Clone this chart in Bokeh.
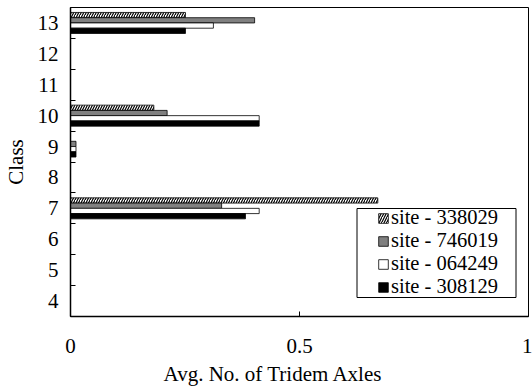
from bokeh.plotting import figure
from bokeh.models import (ColumnDataSource, Range1d, FixedTicker, NumeralTickFormatter,
                          Legend, LegendItem, BoxAnnotation)
from bokeh.transform import dodge
from bokeh.embed import file_html
from bokeh.resources import INLINE

# ---- data ----
classes = [7, 9, 10, 13]
class_ticks = [4, 5, 6, 7, 8, 9, 10, 11, 12, 13]
class_bounds = [3.5, 4.5, 5.5, 6.5, 7.5, 8.5, 9.5, 10.5, 11.5, 12.5, 13.5]
x_ticks = [0, 0.5, 1]

series_names = ["site - 338029", "site - 746019", "site - 064249", "site - 308129"]
site_338029 = [0.671, 0.0, 0.182, 0.251]
site_746019 = [0.330, 0.012, 0.211, 0.402]
site_064249 = [0.412, 0.012, 0.412, 0.312]
site_308129 = [0.382, 0.012, 0.412, 0.251]

x_title = "Avg. No. of Tridem Axles"
y_title = "Class"

FONT = "Liberation Serif"
FS = "21px"
LEG_FS = "20.5px"

# the reference centres the x title on the whole chart, a bit left of the plot centre:
# trailing no-break spaces move the centred text to the left
x_title_shifted = x_title + "\u00a0" * 10

p = figure(width=532, height=391,
           x_range=Range1d(0, 1), y_range=Range1d(3.5, 13.5),
           output_backend="svg", toolbar_location=None,
           min_border_left=70, min_border_right=4, min_border_top=7, min_border_bottom=75,
           x_axis_label=x_title_shifted, y_axis_label=y_title)

p.background_fill_color = "white"
p.border_fill_color = "white"
p.outline_line_color = "black"
p.outline_line_width = 1
p.outline_line_alpha = 1
p.xgrid.visible = False
p.ygrid.visible = False

# axes
for ax in (p.xaxis[0], p.yaxis[0]):
    ax.axis_line_color = "black"
    ax.axis_line_width = 1.5
    ax.major_label_text_font = FONT
    ax.major_label_text_font_size = FS
    ax.major_label_text_color = "black"
    ax.axis_label_text_font = FONT
    ax.axis_label_text_font_size = FS
    ax.axis_label_text_font_style = "normal"
    ax.axis_label_text_color = "black"
    ax.major_tick_line_color = "black"
    ax.minor_tick_line_color = "black"

p.xaxis.ticker = FixedTicker(ticks=x_ticks, minor_ticks=[])
p.xaxis.formatter = NumeralTickFormatter(format="0.[0]")
p.xaxis.major_tick_in = 5
p.xaxis.major_tick_out = 0
p.xaxis.minor_tick_in = 0
p.xaxis.minor_tick_out = 0
p.xaxis.major_label_standoff = 22
p.xaxis.axis_label_standoff = 6

p.yaxis.ticker = FixedTicker(ticks=class_ticks, minor_ticks=class_bounds)
p.yaxis.major_tick_in = 0
p.yaxis.major_tick_out = 0
p.yaxis.minor_tick_in = 5
p.yaxis.minor_tick_out = 0
p.yaxis.major_label_standoff = 12
p.yaxis.axis_label_standoff = 7

# bars
values = [site_338029, site_746019, site_064249, site_308129]
offsets = [0.255, 0.085, -0.085, -0.255]
styles = [
    dict(fill_color="white", hatch_pattern="/", hatch_color="black", hatch_scale=5, hatch_weight=1.2),
    dict(fill_color="#808080"),
    dict(fill_color="white"),
    dict(fill_color="black"),
]

renderers = []
for vals, off, st in zip(values, offsets, styles):
    ys = [c for c, v in zip(classes, vals) if v > 0]
    xs = [v for v in vals if v > 0]
    src = ColumnDataSource(dict(y=ys, x=xs))
    r = p.hbar(y=dodge("y", off), left=0, right="x", height=0.17, source=src,
               line_color="black", line_width=0.8, **st)
    renderers.append(r)

# legend frame
box = BoxAnnotation(left=356.5, right=515.5, top=208, bottom=297,
                    left_units="canvas", right_units="canvas",
                    top_units="canvas", bottom_units="canvas",
                    fill_color="white", fill_alpha=1,
                    line_color="black", line_width=1, line_alpha=1)
p.add_layout(box)

legend = Legend(items=[LegendItem(label=n, renderers=[r]) for n, r in zip(series_names, renderers)],
                location=(307, 18), padding=0, spacing=-2, margin=0,
                glyph_width=12, glyph_height=12, label_standoff=2, label_height=20,
                label_text_font=FONT, label_text_font_size=LEG_FS, label_text_color="black",
                border_line_alpha=0, background_fill_alpha=0)
p.add_layout(legend)

open("out.html", "w").write(file_html(p, INLINE))
